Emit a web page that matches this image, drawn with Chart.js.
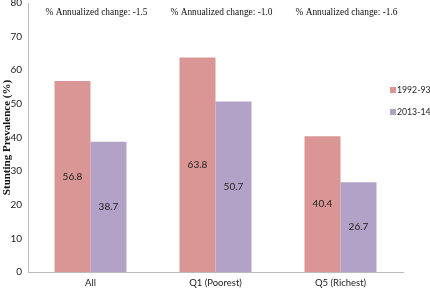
<!DOCTYPE html>
<html>
<head>
<meta charset="utf-8">
<script src="https://cdn.jsdelivr.net/npm/chart.js@4.4.0/dist/chart.umd.min.js"></script>
<style>
  html, body { margin: 0; padding: 0; background: #fff; }
  #wrap { width: 430px; height: 289px; position: relative; }
</style>
</head>
<body>
<div id="wrap"><canvas id="chartStunting"></canvas></div>
<script>
var categories = ["All", "Q1 (Poorest)", "Q5 (Richest)"];
var series1992 = [56.8, 63.8, 40.4];
var series2013 = [38.7, 50.7, 26.7];
var annualChange = ["-1.5", "-1.0", "-1.6"];
var yTicks = [0, 10, 20, 30, 40, 50, 60, 70, 80];

var sansFont = "Lato, 'Open Sans', sans-serif";
var serifFont = "'Liberation Serif', 'DejaVu Serif', serif";

// values inside the bars
var barLabels = {
	id: "barLabels",
	afterDatasetsDraw: function(chart) {
		var ctx = chart.ctx;
		ctx.save();
		ctx.font = "10px " + sansFont;
		ctx.fillStyle = "#222";
		ctx.textAlign = "center";
		ctx.textBaseline = "middle";
		chart.data.datasets.forEach(function(ds, i) {
			chart.getDatasetMeta(i).data.forEach(function(bar, j) {
				ctx.fillText(ds.data[j].toFixed(1), bar.x, (bar.y + bar.base) / 2);
			});
		});
		ctx.restore();
	}
};

// "% Annualized change" notes over each group
var changeNotes = {
	id: "changeNotes",
	afterDraw: function(chart) {
		var ctx = chart.ctx;
		var xs = chart.scales.x;
		ctx.save();
		ctx.font = "9.4px " + serifFont;
		ctx.fillStyle = "#111";
		ctx.textAlign = "center";
		ctx.textBaseline = "middle";
		annualChange.forEach(function(v, i) {
			ctx.fillText("% Annualized change: " + v, xs.getPixelForValue(i) + 6, 13);
		});
		ctx.restore();
	}
};

// legend on the right, inside the plot
var sideLegend = {
	id: "sideLegend",
	afterDraw: function(chart) {
		var ctx = chart.ctx;
		ctx.save();
		ctx.font = "8.7px " + sansFont;
		ctx.textBaseline = "middle";
		ctx.textAlign = "left";
		chart.data.datasets.forEach(function(ds, i) {
			var y = 90 + i * 22;
			ctx.fillStyle = ds.backgroundColor;
			ctx.fillRect(390, y - 3, 6, 6);
			ctx.fillStyle = "#222";
			ctx.fillText(ds.label, 397, y);
		});
		ctx.restore();
	}
};

new Chart(document.getElementById("chartStunting"), {
	type: "bar",
	data: {
		labels: categories,
		datasets: [
			{ label: "1992-93", data: series1992, backgroundColor: "#D99694" },
			{ label: "2013-14", data: series2013, backgroundColor: "#B3A2C7" }
		]
	},
	plugins: [barLabels, changeNotes, sideLegend],
	options: {
		responsive: true,
		maintainAspectRatio: false,
		animation: false,
		layout: { padding: { top: 3, right: 27, left: 0, bottom: 0 } },
		datasets: { bar: { categoryPercentage: 0.576, barPercentage: 1.0 } },
		plugins: {
			legend: { display: false },
			tooltip: { enabled: false }
		},
		scales: {
			x: {
				grid: { display: false, drawTicks: false },
				border: { color: "#bbb", width: 1 },
				ticks: { color: "#222", font: { family: sansFont, size: 9.5 }, padding: 5 },
				afterFit: function(s) { s.height = 17; s.paddingLeft = 0; s.paddingRight = 0; }
			},
			y: {
				min: 0,
				max: 80,
				afterBuildTicks: function(s) { s.ticks = yTicks.map(function(v) { return { value: v }; }); },
				grid: { display: false, drawTicks: false },
				border: { color: "#bbb", width: 1 },
				ticks: { color: "#222", font: { family: sansFont, size: 10 }, padding: 6 },
				title: {
					display: true,
					text: "Stunting Prevalence (%)",
					color: "#111",
					font: { family: serifFont, size: 11, weight: "bold" },
					padding: { top: 1, bottom: 0 }
				},
				afterFit: function(s) { s.width = 28; s.paddingTop = 0; s.paddingBottom = 0; }
			}
		}
	}
});
</script>
</body>
</html>
